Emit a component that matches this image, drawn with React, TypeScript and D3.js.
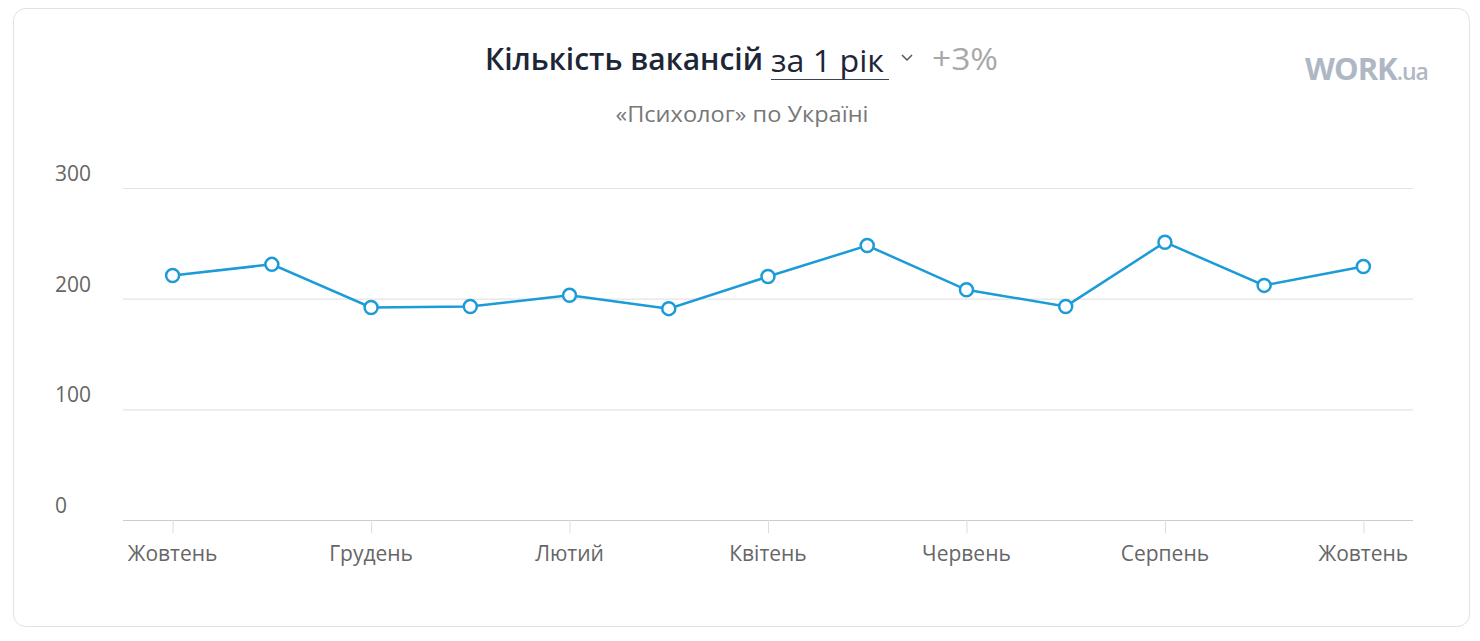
import React from "react";
import * as d3 from "d3";

const months = ["Жовтень","Листопад","Грудень","Січень","Лютий","Березень","Квітень","Травень","Червень","Липень","Серпень","Вересень","Жовтень2"];
const monthLabels = ["Жовтень","","Грудень","","Лютий","","Квітень","","Червень","","Серпень","","Жовтень"];
const values = [221, 231, 192, 193, 203, 191, 220, 248, 208, 193, 251, 212, 229];
const yTicks = [0, 100, 200, 300];

const W = 1480, H = 641;
const left = 123, right = 1413, top = 188, bottom = 520;

export default function App() {
  const x = d3.scalePoint<string>().domain(months).range([left, right]).padding(0.5);
  const y = d3.scaleLinear().domain([0, 300]).range([bottom, top]);
  const line = d3.line<number>().x((_, i) => x(months[i])!).y(d => y(d));
  const font = "'Segoe UI', 'Open Sans', 'Noto Sans', sans-serif";
  return (
    <svg width={W} height={H} style={{ position: "absolute", left: 0, top: 0, fontFamily: font }}>
      <rect x={13.5} y={8.5} width={1456} height={618} rx={12} fill="#fff" stroke="#e2e2e2" />
      <text x={485} y={70} fontSize={30} fontWeight={600} fill="#1d2637" textLength={278} lengthAdjust="spacingAndGlyphs">Кількість вакансій</text>
      <text x={771} y={72} fontSize={31} fill="#1d2637" textLength={113} lengthAdjust="spacingAndGlyphs">за 1 рік</text>
      <line x1={771} x2={889} y1={79.5} y2={79.5} stroke="#3a4252" strokeWidth={1.2} />
      <path d="M902,55 L907,60 L912,55" fill="none" stroke="#555" strokeWidth={1.5} />
      <text x={932} y={70} fontSize={31} fill="#a8a8a8" textLength={66} lengthAdjust="spacingAndGlyphs">+3%</text>
      <text x={742} y={122} fontSize={22} fill="#777" textAnchor="middle" textLength={253} lengthAdjust="spacingAndGlyphs">«Психолог» по Україні</text>
      <text x={1305} y={80} fontSize={31} fontWeight={700} fill="#b0b7c4" letterSpacing={-1}>WORK<tspan fontSize={23} fontWeight={600}>.ua</tspan></text>
      {yTicks.map(t => (
        <g key={t}>
          <line x1={left} x2={right} y1={y(t) + 0.5} y2={y(t) + 0.5} stroke={t === 0 ? "#ccc" : "#e3e3e3"} strokeWidth={1.2} />
          <text x={55} y={y(t) - 7} fontSize={21} fill="#666">{t}</text>
        </g>
      ))}
      {months.map((m, i) => monthLabels[i] ? (
        <g key={m}>
          <line x1={x(m)! + 0.5} x2={x(m)! + 0.5} y1={bottom} y2={bottom + 13} stroke="#ddd" />
          <text x={x(m)!} y={561} fontSize={21} fill="#666" textAnchor="middle">{monthLabels[i]}</text>
        </g>
      ) : null)}
      <path d={line(values)!} fill="none" stroke="#1b9bd7" strokeWidth={2.5} />
      {values.map((v, i) => (
        <circle key={i} cx={x(months[i])!} cy={y(v)} r={6.5} fill="#fff" stroke="#1b9bd7" strokeWidth={2.5} />
      ))}
    </svg>
  );
}
